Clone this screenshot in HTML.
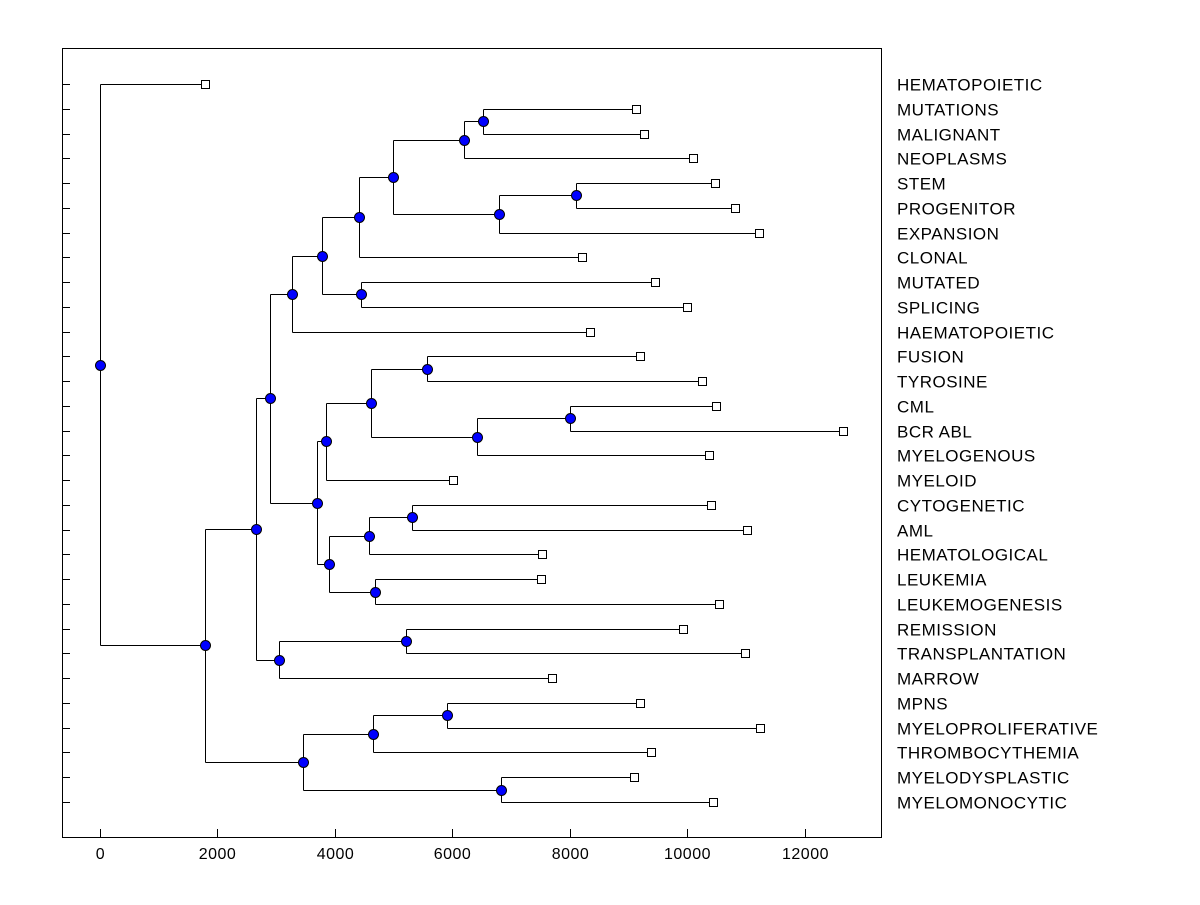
<!DOCTYPE html>
<html><head><meta charset="utf-8"><style>
body{margin:0;background:#fff;}
svg text{font-family:"Liberation Sans",Arial,sans-serif;}
</style></head><body>
<svg id="chart" width="1200" height="900" xmlns="http://www.w3.org/2000/svg">
<rect x="0" y="0" width="1200" height="900" fill="#fff"/>
<rect x="62.5" y="48.5" width="819" height="789" fill="none" stroke="#000" stroke-width="1"/>
<g id="g"></g>
</svg>
<script>
const labels=["HEMATOPOIETIC","MUTATIONS","MALIGNANT","NEOPLASMS","STEM","PROGENITOR","EXPANSION","CLONAL","MUTATED","SPLICING","HAEMATOPOIETIC","FUSION","TYROSINE","CML","BCR ABL","MYELOGENOUS","MYELOID","CYTOGENETIC","AML","HEMATOLOGICAL","LEUKEMIA","LEUKEMOGENESIS","REMISSION","TRANSPLANTATION","MARROW","MPNS","MYELOPROLIFERATIVE","THROMBOCYTHEMIA","MYELODYSPLASTIC","MYELOMONOCYTIC"];
const leafValues=[1796,9132,9268,10102,10477,10817,11226,8213,9455,10000,8349,9200,10255,10494,12647,10374,6017,10409,11021,7532,7515,10545,9932,10987,7702,9200,11243,9387,9098,10443];
// merges: [childA, childB] ; ids >=30 refer to earlier merges (30 + index)
const mergeChildren=[[1,2],[30,3],[4,5],[32,6],[31,33],[34,7],[8,9],[35,36],[37,10],[11,12],[13,14],[40,15],[39,41],[42,16],[17,18],[44,19],[20,21],[45,46],[43,47],[38,48],[22,23],[50,24],[49,51],[25,26],[53,27],[28,29],[54,55],[52,56],[0,57]];
const mergeHeights=[6528,6204,8111,6800,4996,4417,4451,3787,3277,5574,8009,6426,4621,3855,5319,4587,4689,3906,3702,2902,5217,3055,2664,5915,4655,6834,3464,1796,0];
const xTicks=[0,2000,4000,6000,8000,10000,12000];

const NS="http://www.w3.org/2000/svg";
const g=document.getElementById('g');
const xs=v=>99.5+v*0.05875;
const ys=i=>84+i*(802-84)/29;
function mk(t,a){const e=document.createElementNS(NS,t);for(const k in a)e.setAttribute(k,a[k]);g.appendChild(e);return e;}
labels.forEach((l,i)=>{
 const y=Math.round(ys(i))+0.5;
 const t=mk('line',{x1:62,x2:70,y1:y,y2:y,stroke:'#000'});
 
 
 const tx=mk('text',{x:897,y:y+6,'font-size':17,'letter-spacing':0.5});
 tx.textContent=l;
 
 
});
xTicks.forEach(v=>{
 const x=Math.round(xs(v))+0.5;
 const t=mk('line',{x1:x,x2:x,y1:829,y2:837,stroke:'#000'});
 
 
 const tx=mk('text',{x:x,y:859,'font-size':16,'letter-spacing':0.5,'text-anchor':'middle'});
 tx.textContent=v;
 
 
});
const nx=[],ny=[];
leafValues.forEach((v,i)=>{nx[i]=xs(v);ny[i]=ys(i);});
mergeChildren.forEach((c,k)=>{
 const id=30+k;const x=xs(mergeHeights[k]);
 const y=(ny[c[0]]+ny[c[1]])/2;nx[id]=x;ny[id]=y;
 const X=Math.round(x)+0.5;
 const v=mk('line',{x1:X,x2:X,y1:Math.round(ny[c[0]])+0.5,y2:Math.round(ny[c[1]])+0.5,stroke:'#000'});
 
 
 c.forEach(ch=>{
  const Y=Math.round(ny[ch])+0.5;
  const h=mk('line',{x1:X,x2:Math.round(nx[ch])+0.5,y1:Y,y2:Y,stroke:'#000'});
  
  
 });
});
leafValues.forEach((v,i)=>{
 const r=mk('rect',{x:Math.round(nx[i])-3.5,y:Math.round(ny[i])-3.5,width:8,height:8,fill:'#fff',stroke:'#000'});
 
 
});
mergeChildren.forEach((c,k)=>{
 const id=30+k;
 const d=mk('circle',{cx:Math.round(nx[id])+0.5,cy:Math.round(ny[id])+0.5,r:5,fill:'#0000ff',stroke:'#000'});
 
 
});
</script>
</body></html>
